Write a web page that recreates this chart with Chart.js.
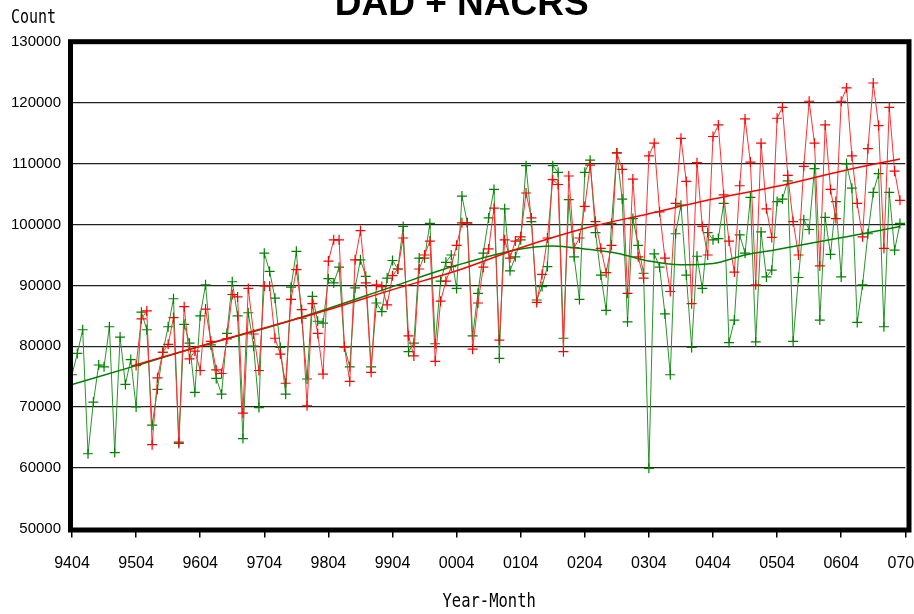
<!DOCTYPE html>
<html>
<head>
<meta charset="utf-8">
<script src="https://cdn.jsdelivr.net/npm/chart.js"></script>
<style>
  html, body { margin: 0; padding: 0; background: #fff; }
</style>
</head>
<body>
<canvas id="chart" width="914" height="614"></canvas>
<script>
// month index 0 = 9404 (April 1994), one step per month
const titleText = 'DAD + NACRS';
const tickLabels = ['9404', '9504', '9604', '9704', '9804', '9904', '0004',
                    '0104', '0204', '0304', '0404', '0504', '0604', '0704'];

// green series, 9404 .. 0703
const greenCounts = [
  75300, 78800, 82700, 62300, 70800, 76900, 76600, 83200, 62500, 81500, 73700, 77800,
  70000, 85600, 82700, 67000, 72900, 79000, 83200, 87800, 64000, 83600, 80500, 72400,
  85000, 90100, 80200, 74700, 72100, 82100, 90600, 85000, 64800, 85500, 80000, 69900,
  95300, 92300, 87900, 79800, 72100, 89700, 95600, 84600, 74600, 88200, 84100, 83800,
  91100, 90400, 93000, 79900, 76600, 89600, 94200, 91500, 76600, 87100, 85700, 91200,
  94100, 92700, 99700, 79100, 80500, 94500, 94500, 100200, 80400, 90700, 93800, 95000,
  89500, 104700, 100300, 81700, 88700, 95300, 101100, 105800, 78000, 102600, 92400, 94700,
  97500, 109700, 100500, 87600, 89800, 93100, 109700, 108600, 81300, 104100, 94700, 87700,
  108600, 110600, 98700, 91700, 85900, 100200, 111800, 104200, 84000, 101000, 96600, 92000,
  59900, 95200, 93000, 85300, 75300, 98500, 103200, 91700, 79800, 94800, 89500, 98700,
  97500, 97700, 103500, 80600, 84300, 98300, 95300, 104500, 80700, 98800, 91400, 92500,
  103800, 104200, 107200, 80800, 91300, 100800, 99200, 109200, 84300, 101200, 95100, 103800,
  91400, 110000, 106000, 83900, 90100, 98500, 105300, 108400, 83200, 105300, 95800, 100200
];

// red series starts at 9504
const redStart = 12;
const redCounts = [
  76800, 84500, 85800, 63800, 74800, 79000, 80300, 84700, 64200, 86500, 77900, 79200,
  76000, 86100, 80800, 76100, 75500, 81200, 88500, 88100, 69000, 89500, 82000, 76000,
  89900, 89900, 81300, 78700, 73900, 87700, 92600, 86000, 70200, 87000, 82100, 75400,
  94000, 97500, 97500, 79900, 74200, 94200, 99000, 90400, 75700, 90100, 89800, 86800,
  91600, 92700, 97800, 81700, 78400, 92700, 95000, 97300, 77500, 87400, 90700, 93100,
  96600, 100300, 100300, 79500, 87100, 93000, 96000, 102700, 81000, 97500, 94500, 97300,
  98000, 105200, 101100, 87200, 91800, 97800, 107400, 106600, 79100, 108000, 96200, 97800,
  103000, 109800, 100500, 96100, 92100, 96600, 111800, 109100, 88700, 107500, 94700, 91200,
  111300, 113400, 102100, 94500, 89000, 103500, 114200, 107100, 87000, 110200, 99700, 95000,
  114500, 116400, 104900, 97300, 92200, 106400, 117400, 110300, 90100, 113400, 102600, 97900,
  117500, 119300, 108100, 100500, 95000, 109600, 120300, 113400, 93200, 116400, 105800, 101000,
  120300, 122500, 111300, 103500, 98000, 112500, 123300, 116300, 96100, 119300, 108800, 104000
];

// smoothed trend curves, read at a few months
const redTrendMonths = [11.4, 24, 36, 48, 60, 72, 84, 96, 108, 120, 132, 145, 155];
const redTrendValues = [76800, 80000, 83000, 86000, 89300, 92400, 96200, 99400, 101800, 104200, 106300, 109000, 110800];
const greenTrendMonths = [0, 12, 24, 36, 48, 60, 72, 84, 90, 96, 102, 108, 114, 120, 126, 132, 138, 145, 155];
const greenTrendValues = [73700, 76800, 80000, 82900, 86200, 89800, 93300, 96000, 96500, 96000, 95300, 94000, 93400, 93600, 95000, 95900, 96900, 98000, 99700];

function toPoints(months, values) {
  return values.map((v, i) => ({ x: months[i], y: v }));
}

function seriesPoints(start, values) {
  return values.map((v, i) => ({ x: start + i, y: v }));
}

function drawStretched(ctx, text, x, y, size, sy, align) {
  ctx.save();
  ctx.translate(x, y);
  ctx.scale(1, sy);
  ctx.font = size + 'px "DejaVu Sans Mono", monospace';
  ctx.textAlign = align;
  ctx.textBaseline = 'alphabetic';
  ctx.fillText(text, 0, 0);
  ctx.restore();
}

const decorations = {
  id: 'decorations',
  afterDraw(chart) {
    const { ctx, chartArea: a } = chart;
    ctx.save();
    // heavy frame round the plot
    ctx.lineWidth = 5;
    ctx.strokeStyle = '#000';
    ctx.strokeRect(a.left - 1.5, a.top - 0.6, a.width + 5.2, a.height + 2.1);

    ctx.fillStyle = '#000';
    ctx.font = 'bold 37px "Liberation Sans", Arial, sans-serif';
    ctx.textAlign = 'center';
    ctx.textBaseline = 'alphabetic';
    ctx.fillText(titleText, 461.7, 15);

    drawStretched(ctx, 'Count', 11, 23.3, 15, 1.28, 'left');
    drawStretched(ctx, 'Year-Month', 489.2, 607.3, 15.5, 1.24, 'center');
    ctx.restore();
  }
};

const ctx = document.getElementById('chart').getContext('2d');
new Chart(ctx, {
  type: 'line',
  data: {
    datasets: [
      {
        data: toPoints(redTrendMonths, redTrendValues),
        borderColor: '#ff0000',
        borderWidth: 1.5,
        pointRadius: 0,
        cubicInterpolationMode: 'monotone',
        order: 0
      },
      {
        data: toPoints(greenTrendMonths, greenTrendValues),
        borderColor: '#008000',
        borderWidth: 1.5,
        pointRadius: 0,
        cubicInterpolationMode: 'monotone',
        order: 1
      },
      {
        data: seriesPoints(redStart, redCounts),
        borderColor: '#ff3030',
        borderWidth: 1,
        pointStyle: 'cross',
        pointRadius: 5,
        pointBorderWidth: 1.2,
        pointBorderColor: '#ff0000',
        tension: 0,
        order: 2
      },
      {
        data: seriesPoints(0, greenCounts),
        borderColor: '#2a942a',
        borderWidth: 1,
        pointStyle: 'cross',
        pointRadius: 5,
        pointBorderWidth: 1.2,
        pointBorderColor: '#008000',
        tension: 0,
        order: 3
      }
    ]
  },
  options: {
    responsive: false,
    animation: false,
    devicePixelRatio: 1,
    layout: { padding: { top: 42.3, right: 8.7, left: 0, bottom: 0 } },
    plugins: {
      legend: { display: false },
      tooltip: { enabled: false },
      title: { display: false }
    },
    scales: {
      x: {
        type: 'linear',
        min: 0,
        max: 156,
        border: { display: false },
        grid: { drawOnChartArea: false, drawTicks: true, tickLength: 9, color: '#000', lineWidth: 1.5 },
        ticks: {
          stepSize: 12,
          autoSkip: false,
          maxRotation: 0,
          padding: 16,
          color: '#000',
          font: { family: '"Liberation Sans", Arial, sans-serif', size: 16 },
          callback: (v) => tickLabels[v / 12] || ''
        },
        afterFit: (s) => { s.height = 85.5; s.paddingLeft = 0; s.paddingRight = 0; }
      },
      y: {
        min: 50000,
        max: 130000,
        border: { display: false },
        grid: { color: '#222', lineWidth: 1.2, drawTicks: true, tickLength: 4 },
        ticks: {
          stepSize: 10000,
          padding: 7,
          color: '#000',
          font: { family: '"Liberation Sans", Arial, sans-serif', size: 15 },
          callback: (v) => String(v)
        },
        afterFit: (s) => { s.width = 72; s.paddingTop = 0; s.paddingBottom = 0; }
      }
    }
  },
  plugins: [decorations]
});
</script>
</body>
</html>
